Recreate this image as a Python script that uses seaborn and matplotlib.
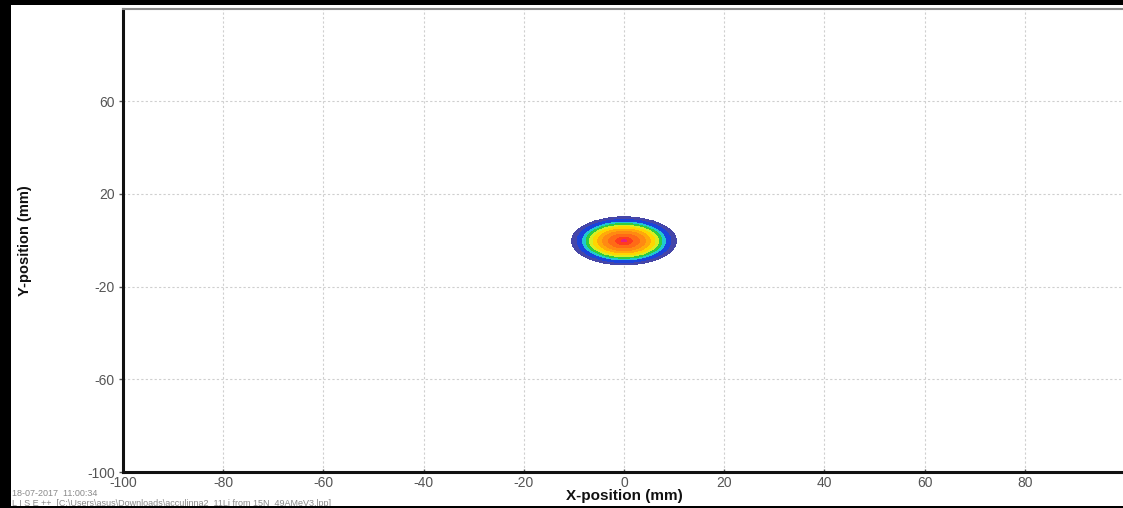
import numpy as np
import matplotlib
matplotlib.use("Agg")
import matplotlib.pyplot as plt
from matplotlib.colors import ListedColormap, BoundaryNorm
from matplotlib.patches import Rectangle
import seaborn as sns

# ---- data ----
x_ticks = [-100, -80, -60, -40, -20, 0, 20, 40, 60, 80]
y_ticks = [-100, -60, -20, 20, 60]
spot_center = [0.0, -0.3]          # mm
# radial bands of the beam-spot histogram (outer radius of each band, mm)
band_radius_mm = [0.7, 1.8, 3.2, 4.4, 5.4, 6.3, 7.0, 7.7, 8.4, 9.5, 10.6]
band_color = ["#e8207a", "#ff3c1e", "#ff6a16", "#ff8a12", "#ffaa0a", "#ffd600",
              "#d8ee22", "#30cc40", "#20c8d0", "#1a44dc", "#4646a8"]
date_text = "18-07-2017  11:00:34"
file_text = "L I S E ++  [C:\\Users\\asus\\Downloads\\acculinna2_11Li from 15N_49AMeV3.lpp]"

sns.set_theme(style="white")
plt.rcParams["font.family"] = ["Liberation Sans", "DejaVu Sans"]
plt.rcParams["axes.unicode_minus"] = False

W, H = 1123, 508
fig = plt.figure(figsize=(W / 100, H / 100), dpi=100, facecolor="black")
fig.add_artist(Rectangle((11 / W, 2 / H), (W - 11) / W, 504 / H,
                         transform=fig.transFigure, facecolor="white",
                         edgecolor="none", zorder=0))

ax = fig.add_axes([123 / W, (H - 472) / H, 1002 / W, (472 - 8.5) / H])
ax.set_facecolor("white")
ax.set_xlim(-100, 100)
ax.set_ylim(-100, 100)

# beam spot as a 2D histogram image
g = np.arange(-12, 12.05, 0.1)
gx, gy = np.meshgrid(g, g)
rr = np.hypot(gx - spot_center[0], gy - spot_center[1])
band = np.digitize(rr, band_radius_mm).astype(float)
band[band >= len(band_radius_mm)] = np.nan
cmap = ListedColormap(band_color)
norm = BoundaryNorm(np.arange(-0.5, len(band_color) + 0.5, 1), cmap.N)
ax.pcolormesh(g, g, np.ma.masked_invalid(band), cmap=cmap, norm=norm,
              shading="nearest", zorder=2, rasterized=True)

ax.set_xticks(x_ticks)
ax.set_yticks(y_ticks)
ax.grid(True, color="#cfcfcf", linestyle=(0, (2, 2)), linewidth=0.8, zorder=0)
ax.set_axisbelow(True)

for s in ["left", "bottom"]:
    ax.spines[s].set_color("#111111")
    ax.spines[s].set_linewidth(2.2)
ax.spines["top"].set_color("#8a8a8a")
ax.spines["top"].set_linewidth(1.5)
ax.spines["right"].set_visible(False)

ax.tick_params(axis="y", direction="out", length=3, width=1, color="#555555",
               labelcolor="#555555", labelsize=10, pad=3, left=True)
ax.tick_params(axis="x", direction="in", length=2, width=1, color="#555555",
               labelcolor="#555555", labelsize=10, pad=3, bottom=True)

ax.set_xlabel("X-position (mm)", fontsize=11, fontweight="bold", color="#111111")
ax.set_ylabel("Y-position (mm)", fontsize=10.5, fontweight="bold", color="#111111")
ax.xaxis.set_label_coords(0.5, -0.036)
ax.yaxis.set_label_coords(-0.091, 0.5)

fig.text(12 / W, (H - 494) / H, date_text, fontsize=6.5, color="#8a8a8a", va="center")
fig.text(12 / W, (H - 503) / H, file_text, fontsize=6.5, color="#8a8a8a", va="center")

# black frame strips
fig.add_artist(Rectangle((0, 0), 1, 2 / H, transform=fig.transFigure,
                         facecolor="black", edgecolor="none", zorder=20))
fig.add_artist(Rectangle((0, (H - 5) / H), 1, 5 / H, transform=fig.transFigure,
                         facecolor="black", edgecolor="none", zorder=20))
fig.add_artist(Rectangle((0, 0), 11 / W, 1, transform=fig.transFigure,
                         facecolor="black", edgecolor="none", zorder=20))

fig.savefig("out.png", dpi=100, facecolor="black")
